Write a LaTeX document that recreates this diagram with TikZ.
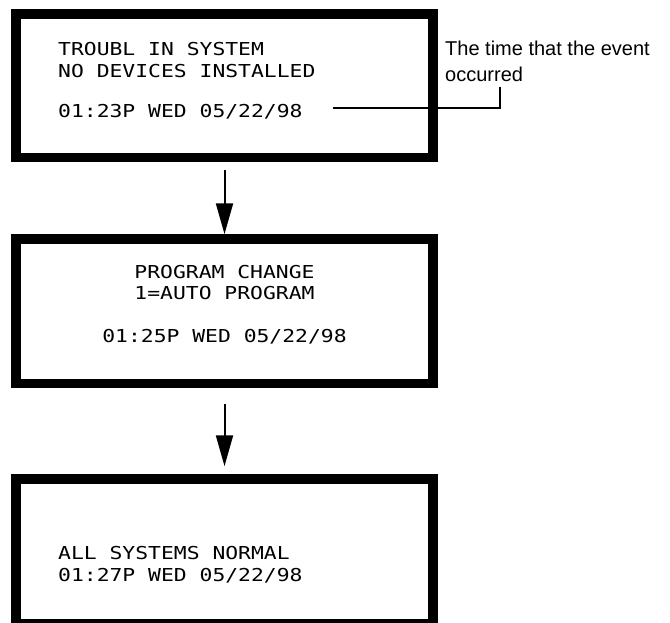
\documentclass[tikz,border=0pt]{standalone}
\usepackage{fontspec}
\setmainfont{Liberation Sans}
\newfontfamily\lcdfont[FakeStretch=1.2]{DejaVu Sans Mono}
\usetikzlibrary{arrows.meta}
\begin{document}
\begin{tikzpicture}[x=1pt,y=-1pt,
  lcdbox/.style={draw=black, line width=9.5pt, fill=white, minimum width=417pt, minimum height=144pt, inner sep=0pt},
  lcdtext/.style={inner sep=0pt, font=\lcdfont\fontsize{17.8}{21}\selectfont},
  notetext/.style={inner sep=0pt, anchor=base west, font=\fontsize{20}{24}\selectfont},
  arr/.style={line width=2pt, -{Triangle[width=17pt,length=31pt]}},
  leader/.style={line width=1.5pt}]
\clip (0,0) rectangle (670,622);
\fill[white] (0,0) rectangle (670,622);
% boxes
\node[lcdbox, minimum height=143.5pt] (b1) at (224.5,85.75) {};
\node[lcdbox, minimum height=144.5pt] (b2) at (224.5,311.25) {};
\node[lcdbox, minimum height=144.5pt] (b3) at (224.5,551.25) {};
% box 1 texts
\node[lcdtext, anchor=base west] (t1a) at (58,55) {TROUBL IN SYSTEM};
\node[lcdtext, anchor=base west] (t1b) at (58,77) {NO DEVICES INSTALLED};
\node[lcdtext, anchor=base west] (t1c) at (58,117) {01:23P WED 05/22/98};
% box 2 texts
\node[lcdtext, anchor=base] (t2a) at (224.5,278) {PROGRAM CHANGE};
\node[lcdtext, anchor=base] (t2b) at (224.5,299) {1=AUTO PROGRAM};
\node[lcdtext, anchor=base] (t2c) at (224.5,342) {01:25P WED 05/22/98};
% box 3 texts
\node[lcdtext, anchor=base west] (t3a) at (58,559) {ALL SYSTEMS NORMAL};
\node[lcdtext, anchor=base west] (t3b) at (58,581) {01:27P WED 05/22/98};
% callout
\node[notetext] (n1) at (445,55) {The time that the event};
\node[notetext] (n2) at (445,81) {occurred};
\coordinate (ls) at (333,108);
\coordinate (le) at (500,87);
\draw[leader] (ls) -| (le);
% arrows
\draw[arr] ([yshift=-8pt]b1.south) -- (b2.north);
\draw[arr] ([yshift=-16pt]b2.south) -- ([yshift=8pt]b3.north);
\end{tikzpicture}
\end{document}
